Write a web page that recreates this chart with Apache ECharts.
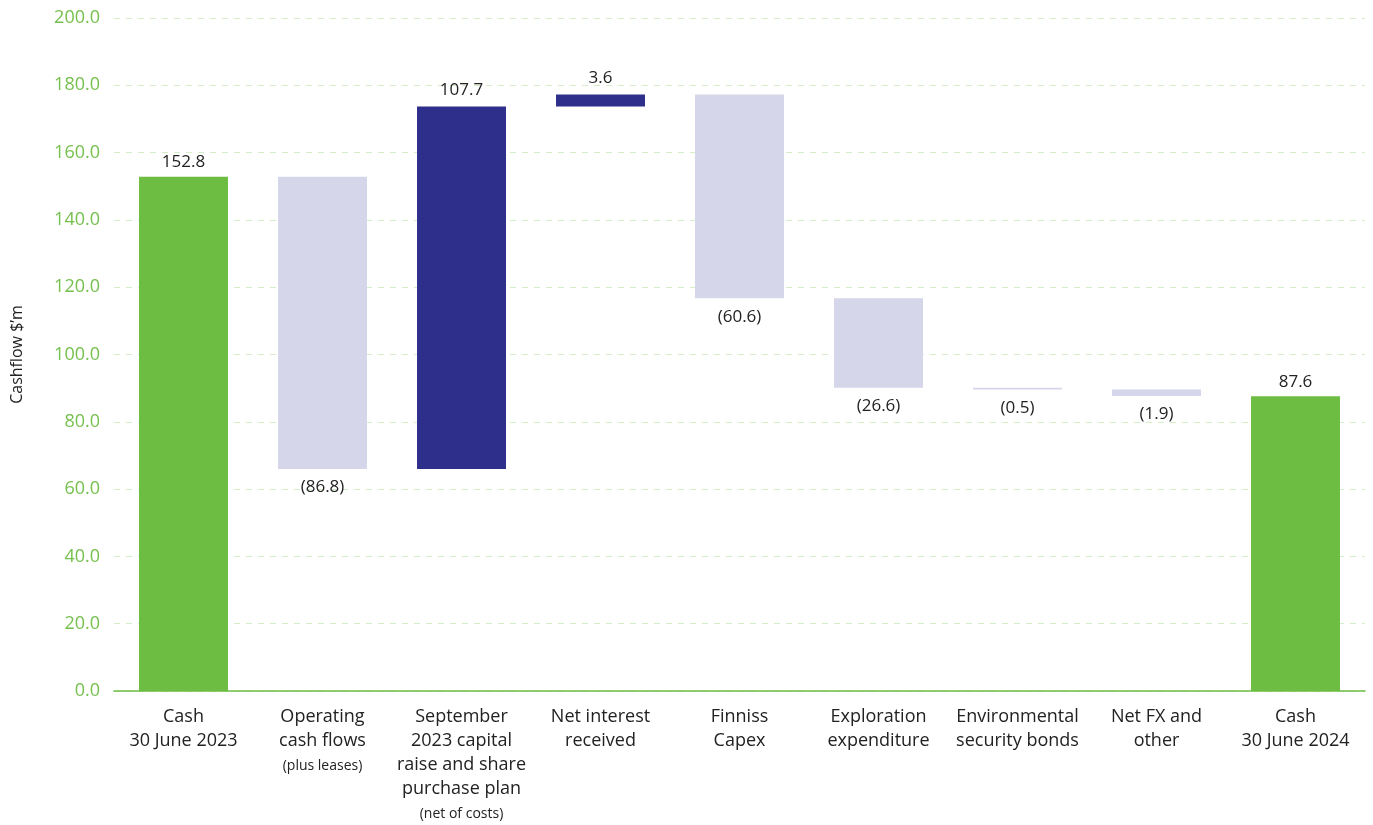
<!DOCTYPE html>
<html><head><meta charset="utf-8">
<script src="https://cdn.jsdelivr.net/npm/echarts@6/dist/echarts.min.js"></script>
<style>html,body{margin:0;padding:0;background:#fff}#c{width:1373px;height:825px}</style>
</head><body><div id="c"></div>
<script>
var categories = ['Cash\n30 June 2023', 'Operating\ncash flows\n{s|(plus leases)}', 'September\n2023 capital\nraise and share\npurchase plan\n{s|(net of costs)}', 'Net interest\nreceived', 'Finniss\nCapex', 'Exploration\nexpenditure', 'Environmental\nsecurity bonds', 'Net FX and\nother', 'Cash\n30 June 2024'];
var changes = [152.8, -86.8, 107.7, 3.6, -60.6, -26.6, -0.5, -1.9, 87.6];
var kinds = ['total', 'change', 'change', 'change', 'change', 'change', 'change', 'change', 'total'];
var yTicks = {min: 0, max: 200, interval: 20};

var GREEN = '#6cbd42', LAV = '#d5d6ea', NAVY = '#2e2e8b';
var base = [], vis = [], running = 0;
for (var i = 0; i < changes.length; i++) {
  var v = changes[i];
  if (kinds[i] === 'total') {
    base.push(0);
    vis.push({value: v, itemStyle: {color: GREEN}, label: {position: 'top', distance: 6, formatter: v.toFixed(1)}});
    running = v;
  } else if (v >= 0) {
    base.push(running);
    vis.push({value: v, itemStyle: {color: NAVY}, label: {position: 'top', distance: 8, formatter: v.toFixed(1)}});
    running += v;
  } else {
    running += v;
    base.push(running);
    vis.push({value: -v, itemStyle: {color: LAV}, label: {position: 'bottom', distance: 10, formatter: '(' + (-v).toFixed(1) + ')'}});
  }
}

var chart = echarts.init(document.getElementById('c'));
chart.setOption({
  animation: false,
  textStyle: {fontFamily: 'Open Sans'},
  grid: {left: 114, right: 8, top: 18, bottom: 134, outerBoundsMode: 'none'},
  xAxis: {
    type: 'category', data: categories,
    axisLine: {lineStyle: {color: GREEN, width: 1.5}},
    axisTick: {show: false},
    axisLabel: {
      interval: 0, color: '#222', fontSize: 18, lineHeight: 24, margin: 14,
      fontFamily: 'Open Sans',
      rich: {s: {fontSize: 14, lineHeight: 26, color: '#222', fontFamily: 'Open Sans'}}
    }
  },
  yAxis: {
    type: 'value', min: yTicks.min, max: yTicks.max, interval: yTicks.interval,
    name: 'Cashflow $\u2019m', nameLocation: 'middle', nameGap: 89, nameRotate: 90,
    nameTextStyle: {color: '#222', fontSize: 16, fontFamily: 'Open Sans'},
    axisLine: {show: false}, axisTick: {show: false},
    axisLabel: {color: '#76c04e', fontSize: 18, margin: 14, formatter: function (v) { return v.toFixed(1); }},
    splitLine: {lineStyle: {color: '#d4efc8', type: [6, 6], width: 1}}
  },
  series: [
    {type: 'bar', stack: 'w', data: base, barWidth: '64%', itemStyle: {color: 'transparent'}, silent: true},
    {type: 'bar', stack: 'w', data: vis, barWidth: '64%',
     label: {show: true, color: '#222', fontSize: 17, fontFamily: 'Open Sans'}}
  ]
});
</script></body></html>
